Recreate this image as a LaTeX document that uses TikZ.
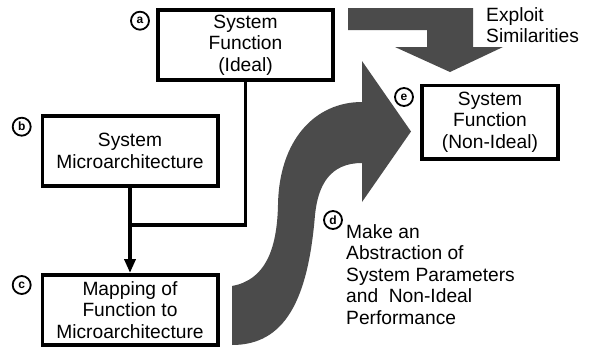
\documentclass[tikz,border=0pt]{standalone}
\usepackage{fontspec}
\setmainfont{Liberation Sans}
\usepackage{xcolor}
\definecolor{flow}{HTML}{4B4B4B}
\usetikzlibrary{arrows.meta, positioning}
\tikzset{
    block/.style={
        draw, line width=3.6pt,
        inner sep=0pt, align=center,
        minimum width=175.4pt,
        minimum height=70.4pt,
        font=\fontsize{19.2}{21.5}\selectfont
    },
    tag/.style={
        circle, draw, line width=1.8pt,
        inner sep=0pt, minimum size=18pt,
        font=\fontsize{12}{12}\selectfont\bfseries
    },
    note/.style={
        inner sep=0pt, align=left, anchor=north west,
        font=\fontsize{19.2}{21.5}\selectfont
    },
    link/.style={
        line width=3.6pt,
    },
    linkarr/.style={
        link,
        -{Triangle[length=14pt, width=11pt]},
    },
}

\begin{document}
\begin{tikzpicture}
            [x=1pt, y=-1pt]
            \useasboundingbox (0,0) rectangle (606,354);
            % Draw left column
            \node[block] (sysIdeal) at (245.5,45) {System\\Function\\(Ideal)};
            \node[block] (microArch) at (130,151) {System\\Microarchitecture};
            \node[block, below=85pt of microArch] (mapping) {Mapping of\\Function to\\Microarchitecture};
            \node[block, minimum width=136.4pt, minimum height=73.4pt] (sysReal) at (490,122) {System\\Function\\(Non-Ideal)};

            \coordinate (merge) at (microArch.south |- 0,225);
            \draw[link] (sysIdeal.south) |- (merge);
            \draw[linkarr] (microArch.south) -- (mapping.north);

            % Draw block arrows
            \fill[flow] (348,8) -- (473,8) -- (473,47) -- (503,47) -- (450,72)
                -- (395,47) -- (427,47) -- (427,30) -- (348,30) -- cycle;
            \fill[flow] (232,286) .. controls (265,280) and (277,250) .. (278,205)
                .. controls (279,140) and (315,102) .. (362,102)
                -- (362,61) -- (411,131.5) -- (362,202) -- (362,163)
                .. controls (330,163) and (318,185) .. (315,215)
                .. controls (308,300) and (285,345) .. (232,345) -- cycle;

            % Draw notes
            \node[note] (exploit) at (486,7) {Exploit\\Similarities};
            \node[note] (abstract) at (346,224) {Make an\\Abstraction of\\System Parameters\\and\ \ Non-Ideal\\Performance};

            % Draw tags
            \node[tag] (tagA) at (140,20.7) {a};
            \node[tag] (tagB) at (21.7,126.7) {b};
            \node[tag] (tagC) at (21.7,285) {c};
            \node[tag] (tagD) at (333,220) {d};
            \node[tag] (tagE) at (404,97) {e};

        \end{tikzpicture}
\end{document}
